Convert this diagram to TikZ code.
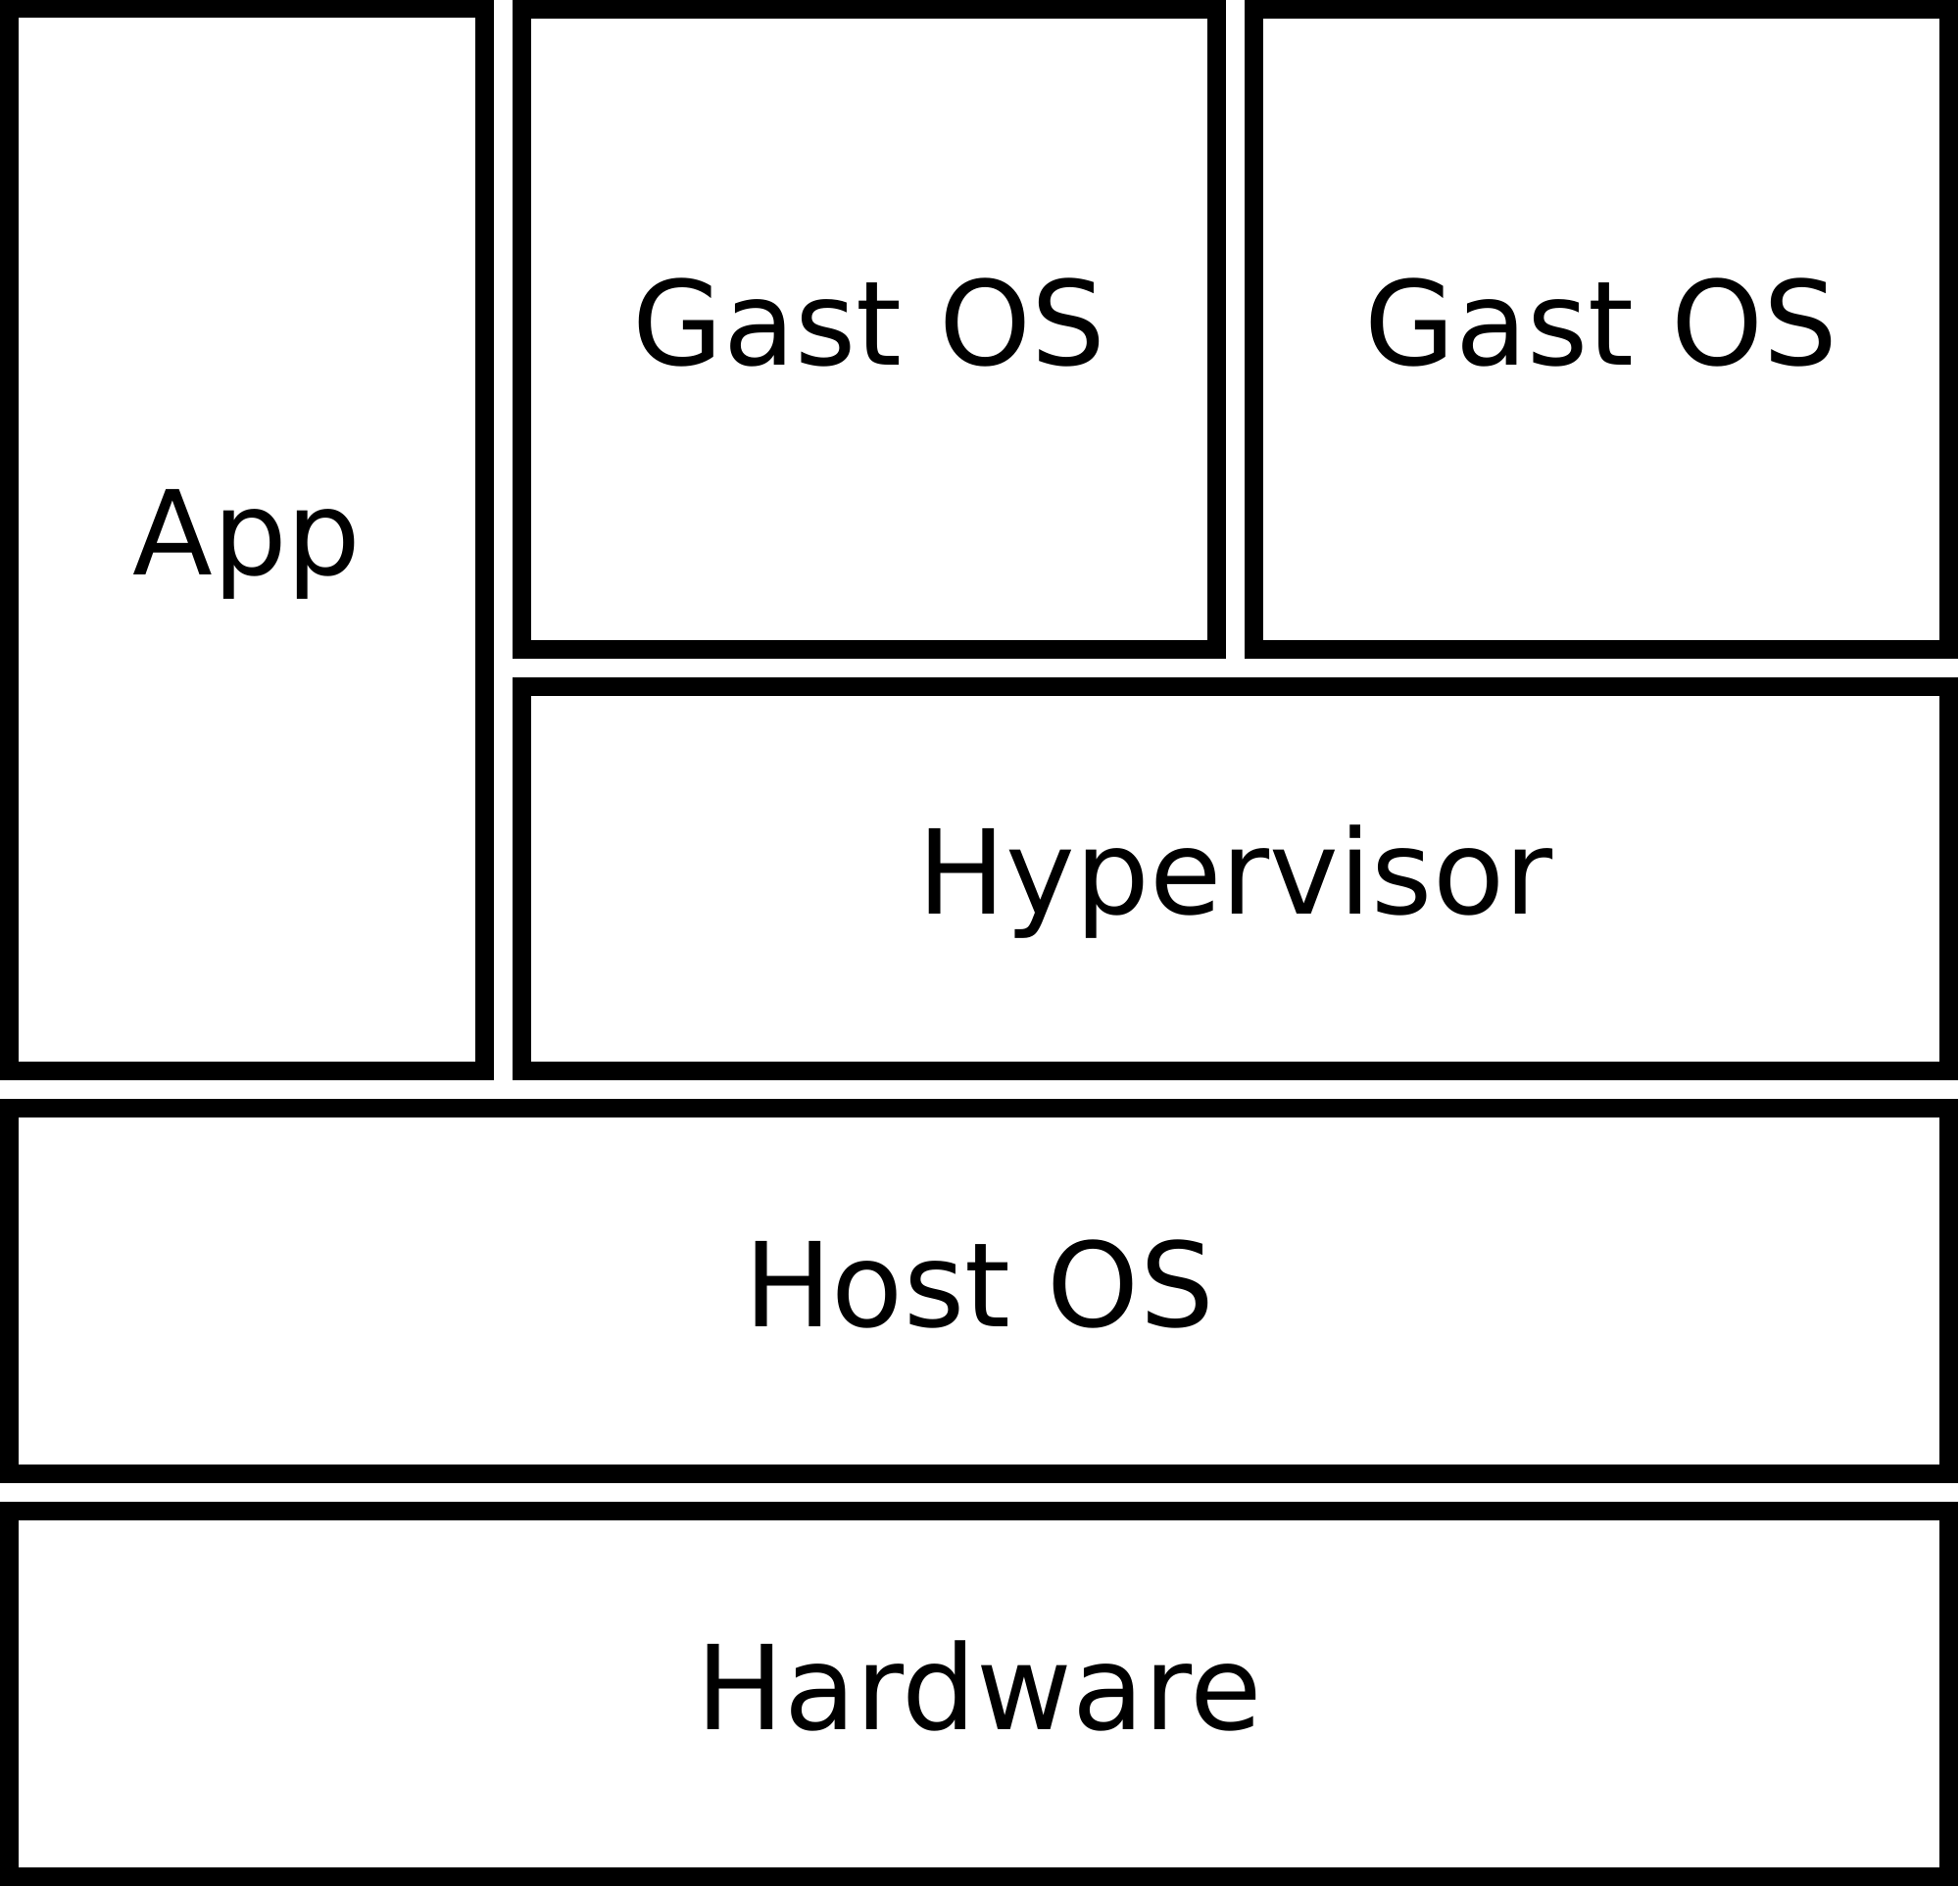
\documentclass[tikz,border=0pt]{standalone}
\usepackage{fontspec}
\setmainfont{DejaVu Sans}
\usetikzlibrary
  {
    positioning,              % place nodes relative to other nodes
  }

\begin{document}
\begin{tikzpicture}
    [
      layer/.style=
        {
          rectangle,
          draw=black,
          line width=0.19cm,
          outer sep=0pt,
          text height=0.976cm,
          text depth=0.256cm,
          font=\fontsize{34}{40}\selectfont,
        },
      node distance=0.38cm,
    ]
    \useasboundingbox (0,0) rectangle (20,19.25);
    \node[layer, minimum width=19.79cm, minimum height=3.7325cm,
          anchor=south west]                          (hardware) at (0.095,0.1) {Hardware};
    \node[layer, minimum width=19.79cm, minimum height=3.7325cm,
          above=of hardware]                          (host)       {Host OS};
    \node[layer, minimum width=4.85cm, minimum height=10.835cm,
          above=of host.north west, anchor=south west] (app)        {App};
    \node[layer, minimum width=14.56cm, minimum height=3.915cm,
          above=of host.north east, anchor=south east] (hypervisor) {Hypervisor};
    \node[layer, minimum width=7.09cm, minimum height=6.535cm,
          above=of hypervisor.north west, anchor=south west] (guest a) {Gast OS};
    \node[layer, minimum width=7.09cm, minimum height=6.535cm,
          above=of hypervisor.north east, anchor=south east] (guest b) {Gast OS};
\end{tikzpicture}
\end{document}
